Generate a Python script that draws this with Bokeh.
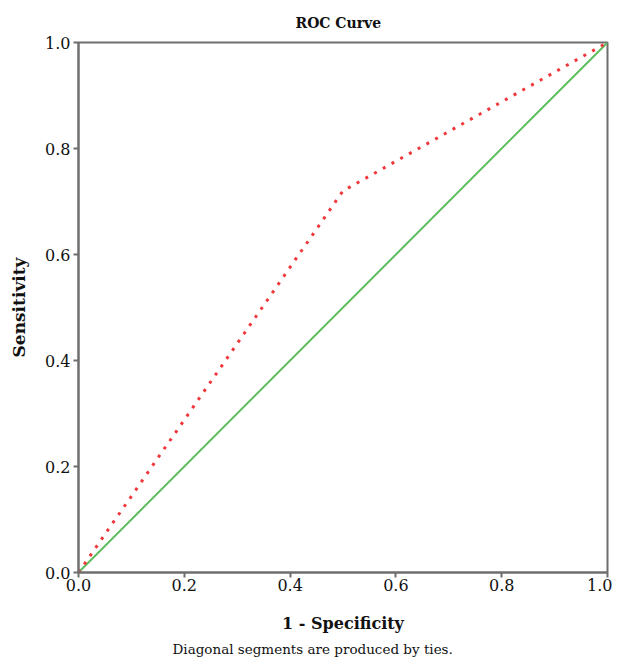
from bokeh.plotting import figure
from bokeh.models import Range1d, FixedTicker, Title, PrintfTickFormatter
from bokeh.embed import file_html
from bokeh.resources import INLINE

roc_x = [0.0, 0.5, 1.0]
roc_y = [0.0, 0.72, 1.0]
ref_x = [0.0, 1.0]
ref_y = [0.0, 1.0]
ticks = [0.0, 0.2, 0.4, 0.6, 0.8, 1.0]

FONT = "DejaVu Serif"

p = figure(width=612, height=661, output_backend="svg", toolbar_location=None,
           x_range=Range1d(0, 1), y_range=Range1d(0, 1),
           min_border_left=78, min_border_right=5, min_border_top=42, min_border_bottom=89)

p.title.text = "ROC Curve"
p.title.align = "left"
p.title.text_font = FONT
p.title.text_font_size = "14px"
p.title.text_font_style = "bold"
p.title.text_color = "#111111"
p.title.offset = 217
p.title.standoff = 23

p.line(ref_x, ref_y, line_color="#5cbd5c", line_width=2)
p.line(roc_x, roc_y, line_color="#f0383c", line_width=3, line_dash="3 7")

p.xgrid.visible = False
p.ygrid.visible = False
p.outline_line_color = "#6e6e6e"
p.outline_line_width = 2

for ax in (p.xaxis[0], p.yaxis[0]):
    ax.ticker = FixedTicker(ticks=ticks)
    ax.formatter = PrintfTickFormatter(format="%.1f")
    ax.axis_line_color = "#6e6e6e"
    ax.axis_line_width = 2
    ax.major_tick_line_color = "#6e6e6e"
    ax.major_tick_line_width = 2
    ax.major_tick_in = 0
    ax.major_tick_out = 5
    ax.minor_tick_line_color = None
    ax.major_label_text_font = FONT
    ax.major_label_text_font_size = "16px"
    ax.major_label_text_color = "#111111"
    ax.axis_label_text_font = FONT
    ax.axis_label_text_font_style = "bold"
    ax.axis_label_text_font_size = "16px"
    ax.axis_label_text_color = "#111111"

p.xaxis.axis_label = "1 - Specificity"
p.yaxis.axis_label = "Sensitivity"
p.yaxis.axis_label_text_font_size = "17px"
p.xaxis.major_label_standoff = 1
p.xaxis.axis_label_standoff = 20
p.yaxis.major_label_standoff = 3
p.yaxis.axis_label_standoff = 13

foot = Title(text="Diagonal segments are produced by ties.")
foot.align = "left"
foot.text_font = FONT
foot.text_font_size = "13.5px"
foot.text_font_style = "normal"
foot.text_color = "#111111"
foot.offset = 94
foot.standoff = 6
p.add_layout(foot, "below")

open("out.html", "w").write(file_html(p, INLINE))
